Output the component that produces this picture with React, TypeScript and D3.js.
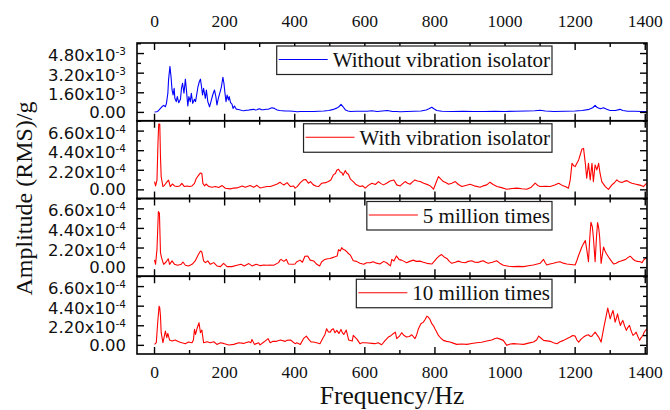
import React, { useEffect, useRef } from 'react';
import * as d3 from 'd3';

type Pt = [number, number];

// Frequency (Hz) vs RMS amplitude; blue series in units of 1e-3 g, red series in units of 1e-4 g
const withoutIsolator: Pt[] = [
  [0,0.03],[5,0.05],[9,0.08],[13,0.2],[17,0.33],[21,0.46],[26,0.57],[31,0.46],[34,0.74],[38,1.56],[40,2.65],[44,3.75],[47,2.93],[50,1.83],[53,1.42],[56,1.97],[58,1.15],[62,0.88],[65,1.29],[69,0.79],[74,1.07],[77,1.97],[80,2.38],[84,1.56],[88,2.71],[91,1.83],[95,0.52],[98,1.29],[102,0.88],[105,1.56],[109,0.74],[114,1.07],[117,0.88],[121,1.56],[124,2.11],[128,2.52],[131,2.71],[134,2.11],[137,1.42],[140,1.97],[145,1.15],[148,1.83],[152,0.88],[157,0.46],[161,0.88],[166,1.42],[171,1.83],[175,1.29],[178,0.6],[182,1.15],[186,1.56],[191,2.11],[195,2.87],[198,2.38],[201,1.56],[204,0.88],[207,1.42],[211,1.01],[213,1.29],[217,0.79],[221,0.68],[224,0.33],[228,0.52],[233,0.27],[239,0.24],[245,0.19],[250,0.16],[254,0.14],[262,0.18],[269,0.19],[276,0.23],[283,0.25],[288,0.2],[292,0.22],[296,0.27],[300,0.3],[305,0.22],[311,0.22],[318,0.26],[326,0.27],[331,0.33],[335,0.38],[342,0.33],[346,0.25],[350,0.19],[357,0.15],[364,0.14],[373,0.12],[383,0.11],[395,0.09],[407,0.05],[416,0.07],[426,0.08],[440,0.07],[454,0.08],[468,0.1],[483,0.11],[497,0.15],[511,0.25],[520,0.35],[526,0.46],[532,0.66],[538,0.46],[545,0.19],[552,0.12],[559,0.08],[575,0.1],[590,0.09],[606,0.1],[620,0.13],[635,0.08],[650,0.12],[664,0.16],[672,0.12],[678,0.08],[690,0.07],[701,0.05],[720,0.07],[740,0.09],[760,0.12],[775,0.2],[783,0.3],[791,0.42],[797,0.3],[805,0.15],[820,0.09],[850,0.08],[880,0.09],[910,0.08],[940,0.08],[970,0.1],[1000,0.08],[1030,0.09],[1060,0.11],[1085,0.14],[1100,0.17],[1115,0.11],[1140,0.08],[1170,0.09],[1200,0.11],[1220,0.15],[1240,0.25],[1250,0.38],[1257,0.58],[1263,0.4],[1272,0.3],[1281,0.38],[1290,0.25],[1300,0.15],[1315,0.16],[1328,0.25],[1336,0.15],[1350,0.1],[1370,0.09],[1390,0.08],[1404,0.07],
];

const withIsolator: Pt[] = [
  [0,0.92],[3,0.44],[7,1.1],[10,5.5],[12,7.4],[15,7.4],[17,3.7],[19,1.47],[24,0.37],[28,0.5],[31,0.66],[36,0.92],[40,1.1],[45,0.37],[51,0.66],[57,0.44],[64,0.37],[72,0.44],[78,0.73],[85,0.37],[93,0.44],[100,0.37],[107,0.44],[114,0.73],[119,1.28],[126,1.65],[131,1.9],[135,1.83],[138,0.73],[143,0.44],[147,0.66],[155,0.37],[164,0.29],[174,0.37],[183,0.26],[193,0.48],[202,0.18],[216,0.11],[226,0.2],[235,0.22],[250,0.44],[259,0.29],[273,0.48],[283,0.29],[292,0.51],[301,0.22],[307,0.26],[321,0.37],[330,0.37],[335,0.44],[350,0.66],[358,0.86],[363,0.7],[369,0.55],[378,0.81],[388,0.37],[397,0.44],[401,0.19],[407,0.37],[416,0.81],[425,1.12],[431,1.17],[439,0.75],[445,0.92],[453,0.56],[462,0.4],[468,0.37],[477,0.75],[488,0.81],[496,0.93],[503,1.1],[510,1.68],[516,1.83],[520,2.2],[525,2.31],[530,2.0],[534,1.94],[538,1.65],[544,2.16],[548,1.9],[553,1.75],[559,1.2],[567,0.93],[575,0.6],[586,0.37],[594,0.45],[601,0.19],[610,0.5],[620,0.75],[630,0.6],[639,0.93],[646,0.7],[653,0.56],[662,0.75],[672,1.0],[683,1.1],[691,0.56],[701,0.44],[708,0.7],[715,0.93],[722,0.75],[729,0.63],[736,0.9],[743,1.12],[750,1.0],[758,0.93],[768,0.75],[781,0.56],[788,0.4],[796,0.07],[803,0.8],[810,1.49],[817,1.2],[824,0.93],[832,0.8],[839,0.63],[848,0.75],[858,0.93],[867,0.6],[877,0.37],[888,0.5],[900,0.63],[912,0.45],[929,0.3],[938,0.45],[948,0.56],[957,0.86],[966,0.6],[977,0.37],[990,0.25],[1005,0.07],[1020,0.15],[1034,0.19],[1048,0.12],[1062,0.07],[1075,0.3],[1086,0.75],[1093,0.5],[1100,0.37],[1115,0.4],[1129,0.37],[1142,0.55],[1153,0.75],[1163,0.5],[1172,0.37],[1181,0.19],[1186,1.12],[1191,2.98],[1196,2.7],[1200,2.61],[1205,3.0],[1210,3.36],[1215,4.0],[1219,4.55],[1224,4.66],[1229,2.98],[1233,1.31],[1238,2.98],[1243,1.12],[1248,2.98],[1252,0.93],[1257,2.8],[1262,2.24],[1267,2.98],[1271,1.87],[1276,0.93],[1286,0.37],[1295,0.05],[1305,0.56],[1312,0.8],[1319,1.12],[1326,0.9],[1333,0.82],[1340,0.95],[1348,1.04],[1355,0.85],[1362,0.75],[1371,0.65],[1381,0.56],[1388,0.5],[1395,0.37],[1404,0.75],
];

const fiveMillion: Pt[] = [
  [0,0.86],[3,0.37],[7,2.05],[11,6.3],[14,6.1],[17,1.68],[20,1.12],[26,0.37],[33,0.63],[39,1.0],[43,0.37],[50,0.75],[57,0.37],[66,0.26],[76,0.37],[81,0.63],[88,0.26],[97,0.19],[107,0.37],[116,0.75],[124,1.38],[131,1.87],[135,1.75],[140,0.75],[145,0.56],[152,0.75],[159,0.37],[169,0.56],[178,0.19],[188,0.11],[197,0.48],[207,0.11],[221,0.11],[235,0.26],[247,0.37],[256,0.19],[269,0.45],[278,0.19],[290,0.37],[302,0.22],[312,0.3],[321,0.26],[330,0.29],[340,0.26],[354,0.56],[358,0.84],[361,0.93],[369,0.7],[376,0.93],[382,0.4],[395,0.37],[401,0.4],[405,0.63],[415,0.84],[422,0.6],[429,1.28],[437,1.31],[444,0.84],[454,0.75],[463,0.37],[471,0.19],[477,0.66],[486,0.92],[494,1.0],[501,1.03],[508,1.12],[515,1.21],[521,1.31],[525,2.02],[530,1.87],[534,2.24],[538,2.05],[544,1.95],[551,1.68],[553,1.58],[559,1.4],[567,0.77],[576,0.7],[586,0.48],[597,0.37],[605,0.55],[616,0.56],[624,0.66],[633,0.5],[643,0.4],[654,0.7],[662,0.55],[673,0.19],[677,0.92],[683,0.75],[690,1.31],[698,0.9],[705,0.84],[712,0.7],[719,0.55],[728,0.7],[738,0.84],[747,0.7],[757,0.73],[767,0.6],[777,0.48],[791,0.4],[798,0.7],[805,1.03],[812,1.3],[819,1.47],[826,1.2],[834,1.03],[841,0.7],[848,0.48],[858,0.6],[867,0.73],[876,0.6],[886,0.55],[895,0.7],[905,0.77],[914,0.6],[924,0.59],[931,0.7],[938,0.77],[945,0.6],[952,0.48],[964,0.6],[976,0.77],[985,0.5],[995,0.26],[1010,0.15],[1024,0.11],[1038,0.14],[1053,0.11],[1067,0.2],[1081,0.29],[1092,0.4],[1100,0.48],[1106,0.75],[1110,0.92],[1114,0.6],[1119,0.29],[1128,0.4],[1138,0.48],[1148,0.6],[1157,0.66],[1166,0.5],[1176,0.4],[1188,0.35],[1200,0.29],[1205,0.8],[1210,1.39],[1215,1.9],[1219,2.31],[1224,2.7],[1229,3.05],[1234,1.8],[1238,0.66],[1242,3.5],[1245,5.1],[1249,4.6],[1252,3.41],[1257,0.66],[1261,3.5],[1264,5.06],[1267,4.5],[1270,3.41],[1274,0.48],[1281,2.31],[1285,1.9],[1289,1.58],[1298,1.03],[1304,0.7],[1310,0.4],[1317,0.5],[1324,0.66],[1331,0.75],[1338,0.84],[1345,0.95],[1351,1.15],[1357,1.28],[1364,1.0],[1371,0.77],[1378,0.7],[1386,0.66],[1391,0.55],[1395,0.84],[1400,1.0],[1404,1.21],
];

const tenMillion: Pt[] = [
  [0,0.11],[5,0.3],[9,2.54],[13,4.4],[15,4.2],[17,3.28],[19,1.42],[24,0.3],[28,1.04],[31,1.6],[35,0.86],[38,1.34],[43,0.6],[50,0.48],[59,0.6],[69,0.41],[78,0.3],[88,0.19],[97,0.37],[107,0.3],[111,0.6],[114,1.79],[117,1.23],[122,1.98],[127,2.54],[131,1.42],[135,1.72],[140,0.3],[150,0.41],[159,0.3],[169,0.41],[178,0.11],[188,0.3],[197,0.22],[212,0.04],[226,0.11],[240,0.3],[254,0.22],[269,0.41],[275,0.3],[278,0.67],[285,0.11],[297,0.3],[301,0.05],[312,0.37],[324,0.75],[330,0.3],[338,0.45],[345,0.45],[348,0.45],[359,0.6],[373,0.45],[377,0.56],[388,0.6],[401,0.19],[406,0.3],[416,0.11],[425,0.75],[433,1.04],[440,0.67],[447,0.37],[453,0.37],[462,0.3],[472,0.19],[480,0.8],[486,1.2],[491,1.87],[496,1.5],[501,1.49],[506,1.79],[510,1.87],[515,1.42],[520,1.68],[526,1.34],[532,1.79],[536,1.4],[540,1.23],[547,1.72],[554,0.6],[564,0.48],[567,1.12],[578,0.67],[586,0.19],[592,0.3],[600,0.3],[610,0.26],[620,0.22],[629,0.19],[638,0.3],[648,0.07],[657,0.5],[667,0.93],[673,1.04],[681,1.31],[687,1.49],[691,0.75],[698,1.0],[705,1.42],[712,1.1],[719,0.93],[727,1.0],[734,1.19],[743,0.75],[748,1.2],[753,1.87],[760,2.43],[767,2.61],[772,2.9],[777,3.28],[781,3.17],[786,2.9],[791,2.43],[796,2.2],[800,1.87],[805,1.5],[810,1.12],[817,0.8],[824,0.56],[833,0.45],[843,0.37],[852,0.25],[862,0.11],[876,0.15],[891,0.11],[905,0.2],[919,0.3],[933,0.35],[948,0.48],[962,0.6],[970,0.75],[977,0.82],[986,0.7],[995,0.56],[1005,0.0],[1015,0.15],[1024,0.19],[1038,0.15],[1053,0.11],[1067,0.25],[1081,0.37],[1090,0.6],[1096,1.04],[1103,0.8],[1110,0.56],[1120,0.5],[1129,0.45],[1138,0.3],[1148,0.19],[1157,0.4],[1167,0.56],[1176,0.75],[1186,0.93],[1193,1.1],[1200,1.04],[1205,0.6],[1210,0.37],[1217,0.7],[1224,0.93],[1231,1.1],[1238,1.19],[1243,1.0],[1248,1.04],[1253,1.3],[1257,1.49],[1262,1.2],[1267,0.93],[1274,0.37],[1278,1.2],[1283,2.24],[1288,3.2],[1293,4.18],[1297,3.5],[1300,2.98],[1304,3.5],[1308,3.92],[1311,3.3],[1314,2.61],[1318,3.1],[1321,3.54],[1325,2.8],[1329,2.24],[1333,2.6],[1336,2.8],[1341,2.2],[1346,1.68],[1350,2.0],[1355,2.24],[1360,1.6],[1365,1.12],[1370,1.3],[1374,1.49],[1379,1.0],[1384,0.56],[1387,0.8],[1390,0.93],[1394,1.2],[1397,1.49],[1401,1.7],[1404,1.87],
];

const seriesNames = ['Without vibration isolator', 'With vibration isolator', '5 million times', '10 million times'];
const seriesColors = ['#0000ff', '#ff0000', '#ff0000', '#ff0000'];
const freqMajorTicks = [0, 200, 400, 600, 800, 1000, 1200, 1400];
const freqMinorTicks = [100, 300, 500, 700, 900, 1100, 1300];
const ampTicksBlue = [0, 1.6, 3.2, 4.8];
const ampTicksRed = [0, 2.2, 4.4, 6.6];
const xTitle = 'Frequency/Hz';
const yTitle = 'Amplitude (RMS)/g';

const W = 670;
const H = 410;
const M = { left: 137, right: 647, top: 43, bottom: 354 };
const SERIF = "'Liberation Serif', 'Times New Roman', serif";
const SANS = "'DejaVu Sans', Verdana, sans-serif";

export default function App() {
  const ref = useRef<SVGSVGElement>(null);

  useEffect(() => {
    const svg = d3.select(ref.current);
    svg.selectAll('*').remove();

    const panels = [
      { data: withoutIsolator, ticks: ampTicksBlue, exp: '-3', domain: [-0.68, 5.66] },
      { data: withIsolator, ticks: ampTicksRed, exp: '-4', domain: [-0.97, 7.76] },
      { data: fiveMillion, ticks: ampTicksRed, exp: '-4', domain: [-0.97, 7.76] },
      { data: tenMillion, ticks: ampTicksRed, exp: '-4', domain: [-0.97, 7.76] },
    ];

    const x = d3.scaleLinear().domain([-50, 1405]).range([M.left, M.right]);
    const ph = (M.bottom - M.top) / panels.length;
    const defs = svg.append('defs');
    const majorLen = 7;
    const minorLen = 4;

    panels.forEach((p, i) => {
      const y0 = M.top + i * ph;
      const y1 = y0 + ph;
      const y = d3.scaleLinear().domain(p.domain).range([y1, y0]);
      const g = svg.append('g');

      defs.append('clipPath').attr('id', `panel-clip-${i}`)
        .append('rect').attr('x', M.left).attr('y', y0).attr('width', M.right - M.left).attr('height', ph);

      const line = d3.line<Pt>().x(d => x(d[0])).y(d => y(d[1]));
      g.append('path').datum(p.data)
        .attr('d', line)
        .attr('fill', 'none')
        .attr('stroke', seriesColors[i])
        .attr('stroke-width', 1.1)
        .attr('stroke-linejoin', 'round')
        .attr('clip-path', `url(#panel-clip-${i})`);

      const tickG = g.append('g').attr('stroke', '#000').attr('stroke-width', 1.4);

      // frequency ticks on top and bottom edges, pointing inward
      const xt = [
        ...freqMajorTicks.map(v => ({ v, len: majorLen })),
        ...freqMinorTicks.map(v => ({ v, len: minorLen })),
      ];
      xt.forEach(t => {
        const px = x(t.v);
        tickG.append('line').attr('x1', px).attr('x2', px).attr('y1', y0).attr('y2', y0 + t.len);
        tickG.append('line').attr('x1', px).attr('x2', px).attr('y1', y1).attr('y2', y1 - t.len);
      });

      // amplitude ticks on left and right edges
      const step = p.ticks[1] - p.ticks[0];
      const yMinor: number[] = [];
      for (let v = step / 2; v < p.domain[1]; v += step) yMinor.push(v);
      const yt = [
        ...p.ticks.map(v => ({ v, len: majorLen })),
        ...yMinor.filter(v => !p.ticks.some(t => Math.abs(t - v) < 1e-9)).map(v => ({ v, len: minorLen })),
      ];
      yt.forEach(t => {
        const py = y(t.v);
        tickG.append('line').attr('x1', M.left).attr('x2', M.left + t.len).attr('y1', py).attr('y2', py);
        tickG.append('line').attr('x1', M.right).attr('x2', M.right - t.len).attr('y1', py).attr('y2', py);
      });

      // tick labels
      p.ticks.forEach(v => {
        const py = y(v);
        const txt = g.append('text')
          .attr('x', 126)
          .attr('text-anchor', 'end')
          .attr('font-family', SANS)
          .attr('font-size', 16.5)
          .attr('fill', '#111');
        if (v === 0) {
          txt.attr('y', py + 5.5).text('0.00');
        } else {
          txt.attr('y', py + 7.5);
          txt.append('tspan').text(`${v.toFixed(2)}x10`);
          txt.append('tspan').attr('dy', -6).attr('font-size', 10.5).text(p.exp);
        }
      });

      // frame
      g.append('rect')
        .attr('x', M.left).attr('y', y0)
        .attr('width', M.right - M.left).attr('height', ph)
        .attr('fill', 'none').attr('stroke', '#000').attr('stroke-width', 1.6);

      // legend
      const boxTop = y0 + 3;
      const boxRight = 552;
      const lg = g.append('g');
      const rect = lg.append('rect');
      const text = lg.append('text')
        .attr('x', boxRight - 2)
        .attr('y', boxTop + 21)
        .attr('text-anchor', 'end')
        .attr('font-family', SERIF)
        .attr('font-size', 21)
        .attr('fill', '#111')
        .text(seriesNames[i]);
      const len = (text.node() as SVGTextElement).getComputedTextLength();
      const boxLeft = boxRight - 2 - len - 56;
      rect.attr('x', boxLeft).attr('y', boxTop).attr('width', boxRight - boxLeft).attr('height', 28.5)
        .attr('fill', '#fff').attr('stroke', '#222').attr('stroke-width', 1.2);
      lg.append('line')
        .attr('x1', boxLeft + 2).attr('x2', boxLeft + 51)
        .attr('y1', boxTop + 13.5).attr('y2', boxTop + 13.5)
        .attr('stroke', seriesColors[i]).attr('stroke-width', 1.1);
    });

    // frequency labels, top and bottom
    freqMajorTicks.forEach(v => {
      [27, 378].forEach(ty => {
        svg.append('text')
          .attr('x', x(v)).attr('y', ty)
          .attr('text-anchor', 'middle')
          .attr('font-family', SERIF)
          .attr('font-size', 17.5)
          .attr('fill', '#111')
          .text(String(v));
      });
    });

    svg.append('text')
      .attr('x', (M.left + M.right) / 2).attr('y', 404)
      .attr('text-anchor', 'middle')
      .attr('font-family', SERIF)
      .attr('font-size', 25.5)
      .attr('fill', '#111')
      .text(xTitle);

    svg.append('text')
      .attr('transform', `translate(32, ${(M.top + M.bottom) / 2}) rotate(-90)`)
      .attr('text-anchor', 'middle')
      .attr('font-family', SERIF)
      .attr('font-size', 24)
      .attr('fill', '#111')
      .text(yTitle);
  }, []);

  return (
    <svg
      ref={ref}
      width={W}
      height={H}
      viewBox={`0 0 ${W} ${H}`}
      style={{ position: 'absolute', left: 0, top: 0, background: '#fff' }}
    />
  );
}
